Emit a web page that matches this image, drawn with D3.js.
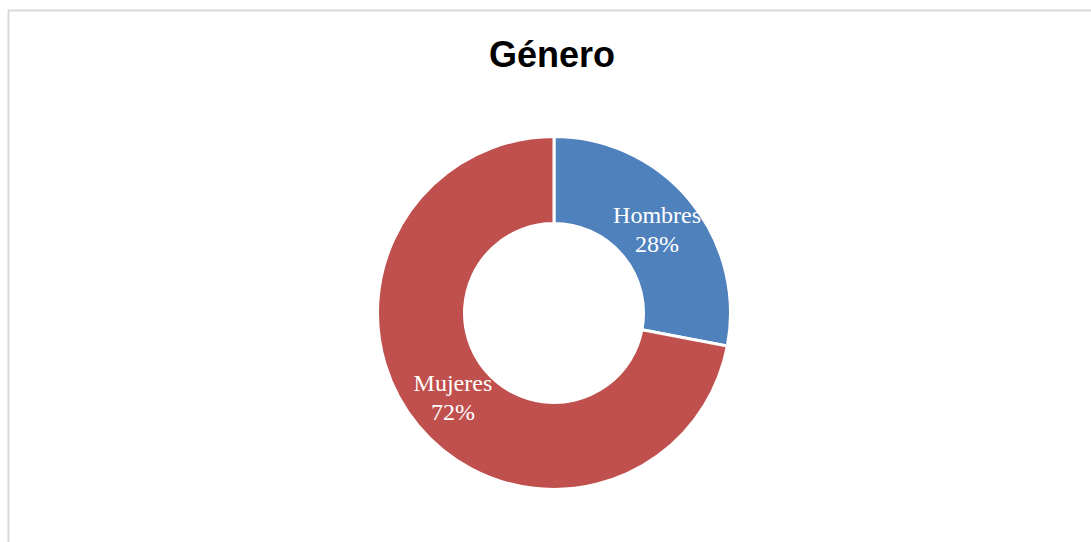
<!DOCTYPE html>
<html>
<head>
<meta charset="utf-8">
<script src="https://cdn.jsdelivr.net/npm/d3@7"></script>
<style>
html,body{margin:0;padding:0;background:#fff;}
svg{display:block;}
</style>
</head>
<body>
<svg id="chart" width="1091" height="542"></svg>
<script>
const categories = ["Hombres", "Mujeres"];
const values = [28, 72];
const colors = ["#4F81BD", "#C0504D"];
const title = "Género";

const svg = d3.select("#chart");
const W = 1091, H = 542;

// frame
svg.append("path")
  .attr("d", "M8.5," + (H + 5) + " L8.5,10.5 L" + (W + 5) + ",10.5")
  .attr("fill", "none").attr("stroke", "#d9d9d9").attr("stroke-width", 2);

svg.append("text")
  .attr("x", 552).attr("y", 67)
  .attr("text-anchor", "middle")
  .attr("font-family", "Liberation Sans, Arial, sans-serif")
  .attr("font-weight", "bold")
  .attr("font-size", 36)
  .attr("fill", "#000")
  .text(title);

const cx = 554, cy = 313;
const outerR = 176.5, innerR = 89.5;
const data = categories.map((c, i) => ({ cat: c, val: values[i], color: colors[i] }));
const pie = d3.pie().value(d => d.val).sort(null);
const arc = d3.arc().innerRadius(innerR).outerRadius(outerR);
const labelArc = d3.arc().innerRadius((90 + 175) / 2).outerRadius((90 + 175) / 2);
const total = d3.sum(values);

const g = svg.append("g").attr("transform", `translate(${cx},${cy})`);
const arcs = pie(data);
g.selectAll("path.slice").data(arcs).enter().append("path")
  .attr("class", "slice")
  .attr("d", arc)
  .attr("fill", d => d.data.color)
  .attr("stroke", "#fff")
  .attr("stroke-width", 3)
  .attr("stroke-linejoin", "miter");

const lab = g.selectAll("text.lab").data(arcs).enter().append("text")
  .attr("class", "lab")
  .attr("text-anchor", "middle")
  .attr("font-family", "Liberation Serif, Cambria, serif")
  .attr("font-size", 24)
  .attr("fill", "#fff")
  .attr("transform", d => { const c = labelArc.centroid(d); return `translate(${c[0] + 1},${c[1] - 6})`; });
lab.append("tspan").attr("x", 0).attr("y", 0).text(d => d.data.cat);
lab.append("tspan").attr("x", 0).attr("y", 29).text(d => Math.round(d.data.val / total * 100) + "%");
</script>
</body>
</html>
